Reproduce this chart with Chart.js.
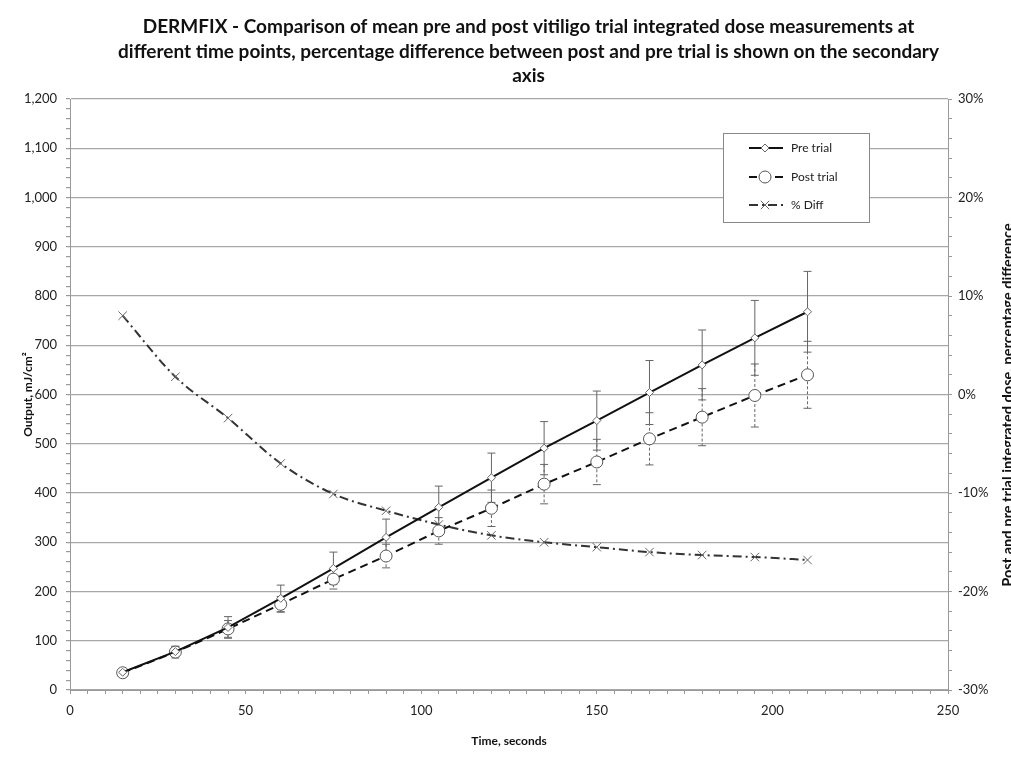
<!DOCTYPE html>
<html>
<head>
<meta charset="utf-8">
<script src="https://cdn.jsdelivr.net/npm/chart.js@4/dist/chart.umd.min.js"></script>
<style>
  html, body { margin: 0; padding: 0; background: #fff; }
  #wrap { width: 1011px; height: 758px; position: relative; }
</style>
</head>
<body>
<div id="wrap"><canvas id="c"></canvas></div>
<script>
// ---- data ----
const timeSec = [15, 30, 45, 60, 75, 90, 105, 120, 135, 150, 165, 180, 195, 210];
const preTrial = [36, 78, 127, 186, 247, 310, 371, 431, 491, 547, 604, 660, 715, 768];
const preErr   = [5, 10, 22, 27, 33, 37, 43, 50, 54, 60, 65, 71, 76, 82];
const postTrial = [35, 77, 124, 174, 225, 272, 323, 369, 418, 463, 510, 554, 598, 640];
const postErr   = [5, 12, 17, 16, 20, 24, 27, 37, 40, 46, 53, 58, 64, 68];
const pctDiff = [8.0, 1.8, -2.4, -7.0, -10.1, -11.8, -13.2, -14.3, -15.0, -15.5, -16.0, -16.3, -16.5, -16.8];

const titleLines = [
  'DERMFIX - Comparison of mean pre and post vitiligo trial integrated dose measurements at',
  'different time points, percentage difference between post and pre trial is shown on the secondary',
  'axis'
];
const xTitle = 'Time, seconds';
const yTitle = 'Output, mJ/cm\u00B2';
const y2Title = 'Post and pre trial integrated dose, percentage difference';
const legendLabels = ['Pre trial', 'Post trial', '% Diff'];

const FONT = "Lato, 'Open Sans', sans-serif";
Chart.defaults.font.family = FONT;
Chart.defaults.font.size = 13;
Chart.defaults.color = '#222';

const toPts = (ys) => timeSec.map((t, i) => ({ x: t, y: ys[i] }));

const errorBars = {
  id: 'errorBars',
  beforeDatasetsDraw(chart) {
    const { ctx } = chart;
    const xs = chart.scales.x, ys = chart.scales.y;
    const sets = [
      { vals: preTrial, err: preErr, dash: [] },
      { vals: postTrial, err: postErr, dash: [3, 2] }
    ];
    ctx.save();
    ctx.strokeStyle = '#666';
    ctx.lineWidth = 1;
    sets.forEach(s => {
      s.vals.forEach((v, i) => {
        const px = xs.getPixelForValue(timeSec[i]);
        const top = ys.getPixelForValue(v + s.err[i]);
        const bot = ys.getPixelForValue(v - s.err[i]);
        ctx.setLineDash(s.dash);
        ctx.beginPath();
        ctx.moveTo(px, top); ctx.lineTo(px, bot);
        ctx.stroke();
        ctx.setLineDash([]);
        ctx.beginPath();
        ctx.moveTo(px - 4, top); ctx.lineTo(px + 4, top);
        ctx.moveTo(px - 4, bot); ctx.lineTo(px + 4, bot);
        ctx.stroke();
      });
    });
    ctx.restore();
  }
};

const shiftTitle = {
  id: 'shiftTitle',
  afterLayout(chart) {
    if (chart.titleBlock) { chart.titleBlock.left += 46; }
  }
};

const extras = {
  id: 'extras',
  afterDraw(chart) {
    const { ctx } = chart;
    // right axis title (rotated, partly outside the canvas as in the reference)
    ctx.save();
    ctx.translate(1013, 405);
    ctx.rotate(-Math.PI / 2);
    ctx.font = 'bold 14.6px ' + FONT;
    ctx.fillStyle = '#111';
    ctx.textAlign = 'center';
    ctx.textBaseline = 'alphabetic';
    ctx.fillText(y2Title, 0, 0);
    ctx.restore();

    // legend box
    ctx.save();
    ctx.fillStyle = '#fff';
    ctx.strokeStyle = '#888';
    ctx.lineWidth = 1;
    ctx.fillRect(723, 133, 146, 89);
    ctx.strokeRect(723.5, 133.5, 146, 89);
    const rows = [148, 177, 205];
    chart.data.datasets.forEach((ds, i) => {
      const y = rows[i];
      const cx = 765;
      ctx.strokeStyle = ds.borderColor;
      ctx.lineWidth = ds.borderWidth;
      ctx.setLineDash(ds.borderDash || []);
      ctx.beginPath();
      ctx.moveTo(749, y); ctx.lineTo(783, y);
      ctx.stroke();
      ctx.setLineDash([]);
      ctx.fillStyle = ds.pointBackgroundColor;
      ctx.strokeStyle = ds.pointBorderColor;
      ctx.lineWidth = ds.pointBorderWidth;
      ctx.beginPath();
      if (ds.pointStyle === 'circle') {
        ctx.arc(cx, y, ds.pointRadius, 0, Math.PI * 2);
        ctx.fill(); ctx.stroke();
      } else if (ds.pointStyle === 'rectRot') {
        const r = ds.pointRadius;
        ctx.moveTo(cx, y - r); ctx.lineTo(cx + r, y); ctx.lineTo(cx, y + r); ctx.lineTo(cx - r, y); ctx.closePath();
        ctx.fill(); ctx.stroke();
      } else {
        const r = ds.pointRadius * 0.7;
        ctx.moveTo(cx - r, y - r); ctx.lineTo(cx + r, y + r);
        ctx.moveTo(cx + r, y - r); ctx.lineTo(cx - r, y + r);
        ctx.stroke();
      }
      ctx.fillStyle = '#222';
      ctx.font = '12px ' + FONT;
      ctx.textAlign = 'left';
      ctx.textBaseline = 'middle';
      ctx.fillText(legendLabels[i], 791, y);
    });
    ctx.restore();
  }
};

new Chart(document.getElementById('c'), {
  type: 'line',
  data: {
    datasets: [
      {
        label: legendLabels[0],
        data: toPts(preTrial),
        yAxisID: 'y',
        borderColor: '#111',
        borderWidth: 2,
        borderDash: [],
        pointStyle: 'rectRot',
        pointRadius: 4,
        pointBackgroundColor: '#fff',
        pointBorderColor: '#666',
        pointBorderWidth: 1,
        tension: 0
      },
      {
        label: legendLabels[1],
        data: toPts(postTrial),
        yAxisID: 'y',
        borderColor: '#111',
        borderWidth: 2,
        borderDash: [8, 5],
        pointStyle: 'circle',
        pointRadius: 6,
        pointBackgroundColor: '#fff',
        pointBorderColor: '#555',
        pointBorderWidth: 1,
        tension: 0
      },
      {
        label: legendLabels[2],
        data: toPts(pctDiff),
        yAxisID: 'y2',
        borderColor: '#333',
        borderWidth: 2,
        borderDash: [9, 4, 2, 4],
        pointStyle: 'crossRot',
        pointRadius: 6,
        pointBackgroundColor: '#fff',
        pointBorderColor: '#666',
        pointBorderWidth: 1,
        cubicInterpolationMode: 'monotone'
      }
    ]
  },
  options: {
    responsive: true,
    maintainAspectRatio: false,
    animation: false,
    layout: { padding: 0 },
    plugins: {
      legend: { display: false },
      tooltip: { enabled: false },
      title: {
        display: true,
        text: titleLines,
        color: '#111',
        font: { family: FONT, size: 19, weight: 'bold', lineHeight: '24.5px' },
        padding: { top: 15, bottom: 10.5 }
      }
    },
    scales: {
      x: {
        type: 'linear',
        min: 0, max: 250,
        afterFit: s => { s.height = 68; },
        ticks: {
          stepSize: 5, autoSkip: false, maxRotation: 0, padding: 9,
          callback: v => (v % 50 === 0 ? String(v) : '')
        },
        grid: { drawOnChartArea: false, tickLength: 4, tickColor: '#999' },
        border: { color: '#999' },
        title: { display: true, text: xTitle, font: { weight: 'bold', size: 12 }, color: '#111', padding: { top: 0, bottom: 10 } }
      },
      y: {
        position: 'left',
        min: 0, max: 1200,
        afterFit: s => { s.width = 70; },
        ticks: {
          stepSize: 20, autoSkip: false, padding: 9,
          callback: v => (v % 100 === 0 ? v.toLocaleString('en-US') : '')
        },
        grid: {
          color: c => (c.tick && c.tick.value % 100 === 0 ? '#a8a8a8' : 'rgba(0,0,0,0)'),
          lineWidth: 1.2,
          tickLength: 4, tickColor: '#999'
        },
        border: { color: '#999' },
        title: { display: true, text: yTitle, font: { weight: 'bold', size: 12 }, color: '#111', padding: { top: 21 } }
      },
      y2: {
        position: 'right',
        min: -30, max: 30,
        afterFit: s => { s.width = 63; },
        ticks: {
          stepSize: 2, autoSkip: false, padding: 6,
          callback: v => (v % 10 === 0 ? v + '%' : '')
        },
        grid: { drawOnChartArea: false, tickLength: 4, tickColor: '#999' },
        border: { color: '#999' }
      }
    }
  },
  plugins: [errorBars, shiftTitle, extras]
});
</script>
</body>
</html>
